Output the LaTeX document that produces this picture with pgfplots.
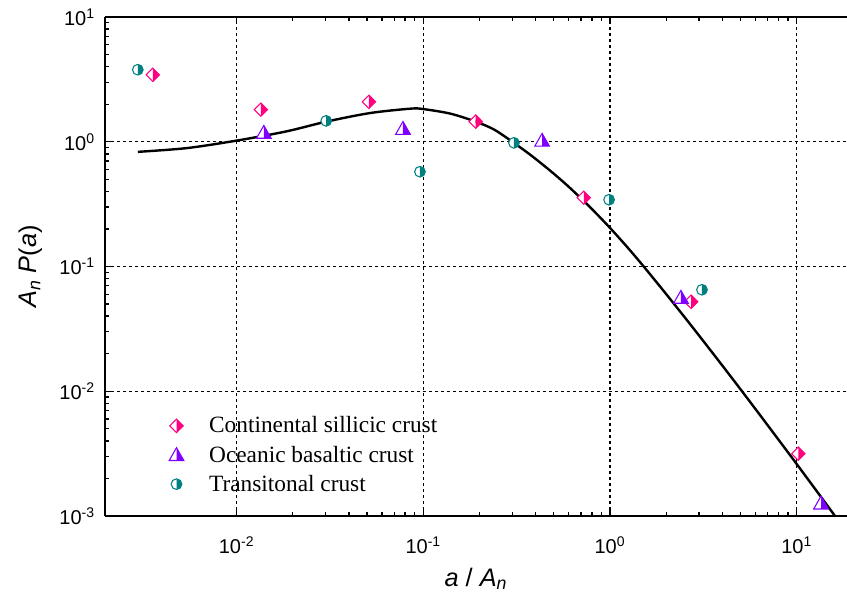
\documentclass[border=0pt]{standalone}
\usepackage{pgfplots}
\pgfplotsset{compat=1.18}
\usepackage{fontspec}
\setmainfont{Liberation Sans}
\newfontfamily\timesfont{Liberation Serif}
\definecolor{cpink}{RGB}{255,0,128}
\definecolor{cpurple}{RGB}{128,0,255}
\definecolor{cteal}{RGB}{0,128,128}

\pgfdeclareplotmark{hdiamond}{%
  \begin{pgfscope}\pgfsetfillcolor{white}%
  \pgfpathmoveto{\pgfqpoint{0pt}{\pgfplotmarksize}}%
  \pgfpathlineto{\pgfqpoint{-\pgfplotmarksize}{0pt}}%
  \pgfpathlineto{\pgfqpoint{0pt}{-\pgfplotmarksize}}%
  \pgfpathclose\pgfusepathqfill
  \end{pgfscope}%
  \pgfpathmoveto{\pgfqpoint{0pt}{\pgfplotmarksize}}%
  \pgfpathlineto{\pgfqpoint{\pgfplotmarksize}{0pt}}%
  \pgfpathlineto{\pgfqpoint{0pt}{-\pgfplotmarksize}}%
  \pgfpathclose\pgfusepathqfill
  \pgfpathmoveto{\pgfqpoint{0pt}{\pgfplotmarksize}}%
  \pgfpathlineto{\pgfqpoint{\pgfplotmarksize}{0pt}}%
  \pgfpathlineto{\pgfqpoint{0pt}{-\pgfplotmarksize}}%
  \pgfpathlineto{\pgfqpoint{-\pgfplotmarksize}{0pt}}%
  \pgfpathclose\pgfusepathqstroke
}
\pgfdeclareplotmark{htriangle}{%
  \begin{pgfscope}\pgfsetfillcolor{white}%
  \pgfpathmoveto{\pgfqpoint{0pt}{\pgfplotmarksize}}%
  \pgfpathlineto{\pgfqpoint{-\pgfplotmarksize}{-0.75\pgfplotmarksize}}%
  \pgfpathlineto{\pgfqpoint{0pt}{-0.75\pgfplotmarksize}}%
  \pgfpathclose\pgfusepathqfill
  \end{pgfscope}%
  \pgfpathmoveto{\pgfqpoint{0pt}{\pgfplotmarksize}}%
  \pgfpathlineto{\pgfqpoint{\pgfplotmarksize}{-0.75\pgfplotmarksize}}%
  \pgfpathlineto{\pgfqpoint{0pt}{-0.75\pgfplotmarksize}}%
  \pgfpathclose\pgfusepathqfill
  \pgfpathmoveto{\pgfqpoint{0pt}{\pgfplotmarksize}}%
  \pgfpathlineto{\pgfqpoint{\pgfplotmarksize}{-0.75\pgfplotmarksize}}%
  \pgfpathlineto{\pgfqpoint{-\pgfplotmarksize}{-0.75\pgfplotmarksize}}%
  \pgfpathclose\pgfusepathqstroke
}
\pgfdeclareplotmark{hcircle}{%
  \begin{pgfscope}\pgfsetfillcolor{white}%
  \pgfpathmoveto{\pgfqpoint{0pt}{\pgfplotmarksize}}%
  \pgfpatharc{90}{270}{\pgfplotmarksize}%
  \pgfpathclose\pgfusepathqfill
  \end{pgfscope}%
  \pgfpathmoveto{\pgfqpoint{0pt}{\pgfplotmarksize}}%
  \pgfpatharc{90}{-90}{\pgfplotmarksize}%
  \pgfpathclose\pgfusepathqfill
  \pgfpathcircle{\pgfpointorigin}{\pgfplotmarksize}%
  \pgfusepathqstroke
}

\begin{document}
\begin{tikzpicture}
\begin{axis}[
  scale only axis,
  width=556.65pt, height=374.25pt,
  xmode=log, ymode=log,
  xmin=0.00197, xmax=18.6,
  ymin=1e-3, ymax=10,
  axis x line*=box, axis y line*=left,
  axis line style={-, line width=1.5pt},
  tick align=inside,
  major tick length=5pt, minor tick length=3pt,
  every tick/.style={black, line width=1pt},
  xtick={0.01,0.1,1,10},
  xticklabels={10\textsuperscript{-2},10\textsuperscript{-1},10\textsuperscript{0},10\textsuperscript{1}},
  ytick={0.001,0.01,0.1,1,10},
  yticklabels={10\textsuperscript{-3},10\textsuperscript{-2},10\textsuperscript{-1},10\textsuperscript{0},10\textsuperscript{1}},
  tick label style={font=\fontsize{15}{17}\selectfont},
  xticklabel style={yshift=-12pt},
  yticklabel style={xshift=-4pt},
  grid=major,
  major grid style={black, line width=0.8pt, dash pattern=on 2.5pt off 2pt},
  xlabel={\textit{a} / \textit{A}\textsubscript{\textit{n}}},
  ylabel={\textit{A}\textsubscript{\textit{n}} \textit{P}(\textit{a})},
  label style={font=\fontsize{19}{22}\selectfont},
  xlabel style={yshift=-4pt},
  ylabel style={yshift=6pt},
  clip=false,
  legend style={at={(0.081,0.21)}, anchor=north west, draw=none, fill=none,
    font=\timesfont\fontsize{17.5}{20}\selectfont, row sep=4.2pt,
    /tikz/every odd column/.append style={column sep=17pt}},
  legend cell align=left,
]
\addplot[black, line width=1.8pt, smooth, forget plot] coordinates {
(0.00296,0.83) (0.0054,0.889) (0.01,1.021) (0.0185,1.211) (0.0302,1.449)
(0.0518,1.698) (0.0851,1.841) (0.1,1.828) (0.140,1.679) (0.191,1.449)
(0.240,1.250) (0.306,0.979) (0.380,0.773) (0.478,0.587) (0.589,0.448)
(0.724,0.335) (0.851,0.263) (1,0.204) (1.222,0.1462) (1.493,0.1028)
(1.995,0.0604) (2.679,0.0347) (3.631,0.01936) (4.966,0.01052) (7.079,0.00521)
(10,0.00261) (15.38,0.00109) (16.03,0.00100)
};
\addplot[only marks, mark=hdiamond, mark size=5pt, draw=cpink, fill=cpink, line width=0.8pt] coordinates {
(0.00356,3.44) (0.0135,1.81) (0.0512,2.09) (0.191,1.45) (0.724,0.356) (2.72,0.0522) (10.2,0.00316)
};
\addlegendentry{Continental sillicic crust}
\addplot[only marks, mark=htriangle, mark size=5.5pt, draw=cpurple, fill=cpurple, line width=0.8pt] coordinates {
(0.0140,1.18) (0.0779,1.27) (0.433,1.02) (2.40,0.0562) (13.5,0.00126)
};
\addlegendentry{Oceanic basaltic crust}
\addplot[only marks, mark=hcircle, mark size=4pt, draw=cteal, fill=cteal, line width=0.8pt] coordinates {
(0.00296,3.78) (0.0302,1.47) (0.096,0.575) (0.306,0.98) (0.989,0.343) (3.11,0.0651)
};
\addlegendentry{Transitonal crust}
\end{axis}
\pgfresetboundingbox
\path ([xshift=-78.6pt,yshift=-60pt]current axis.south west) rectangle ([yshift=12.75pt]current axis.north east);
\end{tikzpicture}
\end{document}
